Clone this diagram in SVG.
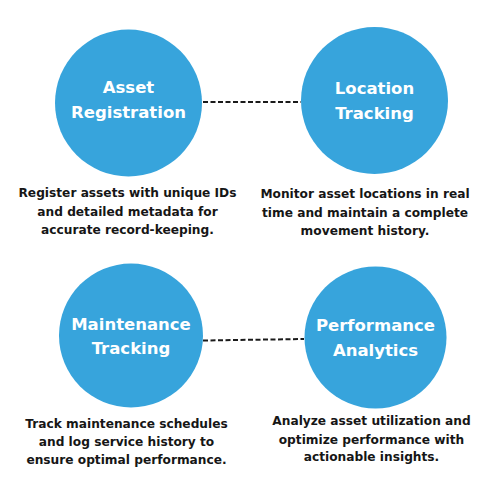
<svg xmlns="http://www.w3.org/2000/svg" width="500" height="500" viewBox="0 0 500 500">
<style>
.c{fill:#37a4dc}
.t{font-family:"DejaVu Sans",sans-serif;font-weight:700;font-size:16.5px;fill:#fff;text-anchor:middle}
.d{font-family:"DejaVu Sans",sans-serif;font-weight:700;font-size:12.2px;fill:#161616;text-anchor:middle}
.l{stroke:#1a1a1a;stroke-width:2;stroke-dasharray:5,2.5;fill:none}
</style>
<rect width="500" height="500" fill="#fff"/>
<g id="connectors">
<line class="l" x1="203" y1="102" x2="301" y2="102"/>
<line class="l" x1="203" y1="340.5" x2="304" y2="339"/>
</g>
<g id="asset-registration">
<circle class="c" cx="128.5" cy="103" r="73.5"/>
<text class="t" x="128.5" y="93">Asset</text>
<text class="t" x="128.5" y="118">Registration</text>
<text class="d" x="127.5" y="197">Register assets with unique IDs</text>
<text class="d" x="127.5" y="215.5">and detailed metadata for</text>
<text class="d" x="127.5" y="233.5">accurate record-keeping.</text>
</g>
<g id="location-tracking">
<circle class="c" cx="374.5" cy="100.5" r="73.5"/>
<text class="t" x="374.5" y="94">Location</text>
<text class="t" x="374.5" y="119">Tracking</text>
<text class="d" x="365" y="198">Monitor asset locations in real</text>
<text class="d" x="365" y="216.5">time and maintain a complete</text>
<text class="d" x="365" y="235">movement history.</text>
</g>
<g id="maintenance-tracking">
<circle class="c" cx="131" cy="335.5" r="72"/>
<text class="t" x="131" y="330">Maintenance</text>
<text class="t" x="131" y="354">Tracking</text>
<text class="d" x="126.5" y="427.5">Track maintenance schedules</text>
<text class="d" x="126.5" y="445.5">and log service history to</text>
<text class="d" x="126.5" y="463.5">ensure optimal performance.</text>
</g>
<g id="performance-analytics">
<circle class="c" cx="375.5" cy="337.5" r="71"/>
<text class="t" x="375.5" y="331">Performance</text>
<text class="t" x="375.5" y="356">Analytics</text>
<text class="d" x="371.5" y="425">Analyze asset utilization and</text>
<text class="d" x="371.5" y="443.5">optimize performance with</text>
<text class="d" x="371.5" y="461">actionable insights.</text>
</g>
</svg>
